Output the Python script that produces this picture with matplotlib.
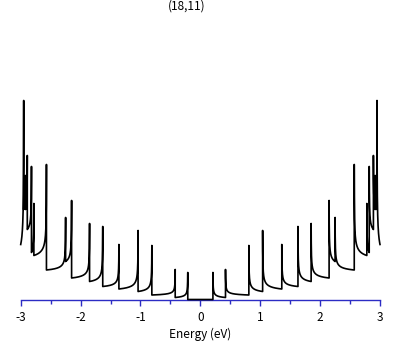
import numpy as np
import matplotlib.pyplot as plt

plt.rcParams['font.family'] = ['Noto Sans CJK JP', 'DejaVu Sans']
plt.rcParams['axes.unicode_minus'] = False

# van Hove singularities on the positive side (mirrored for E < 0)
vhs_energy = [0.21, 0.42, 0.81, 1.04, 1.36, 1.63, 1.85, 2.15, 2.25, 2.57, 2.78, 2.82, 2.89, 2.92, 2.95]
peak_height = [27, 30, 54, 69, 55, 73, 76, 99, 82, 135, 96, 133, 144, 124, 199]
floor_height = [2, 4.5, 8, 10.5, 13, 18, 21.5, 38, 29.5, 44, 47, 70, 90, 90, 55]
e_max = 3.0
title = '(18,11)'
xlabel = 'Energy (eV)'
ticks = [-3, -2, -1, 0, 1, 2, 3]

blue = '#2c2cc4'
d0 = 0.0015  # width of the spike tip

xs = [0.0]
ys = [0.0]
for i, e0 in enumerate(vhs_energy):
    e1 = vhs_energy[i + 1] if i + 1 < len(vhs_energy) else e_max
    L = e1 - e0
    off = np.concatenate([[0.0], np.geomspace(1e-4, L, 300)])
    c = np.sqrt(d0 / (L + d0))
    s = (np.sqrt(d0 / (off + d0)) - c) / (1 - c)
    seg = floor_height[i] + (peak_height[i] - floor_height[i]) * s
    xs.append(e0)
    ys.append(ys[-1])
    xs.extend(e0 + off)
    ys.extend(seg)

xs = np.array(xs)
ys = np.array(ys)
energy = np.concatenate([-xs[::-1], xs[1:]])
dos = np.concatenate([ys[::-1], ys[1:]])

fig = plt.figure(figsize=(4.09, 3.45), dpi=100)
ax = fig.add_axes([20.7 / 409, 45.5 / 345, 359.3 / 409, 279.5 / 345])
ax.plot(energy, dos, color='black', lw=1.2, zorder=5, clip_on=False)

ax.set_xlim(-3, 3)
ax.set_ylim(0, 279.5)
for side in ['top', 'left', 'right']:
    ax.spines[side].set_visible(False)
ax.spines['bottom'].set_color(blue)
ax.spines['bottom'].set_linewidth(1.0)
ax.set_yticks([])
ax.set_xticks(ticks)
ax.set_xticklabels([str(t) for t in ticks])
ax.set_xticks(np.arange(-2.5, 3, 1.0), minor=True)
ax.tick_params(axis='x', which='major', direction='out', length=4.5, width=1.0,
               color=blue, labelsize=8.5, pad=3.5)
ax.tick_params(axis='x', which='minor', direction='out', length=3.2, width=1.0, color=blue)
ax.set_xlabel(xlabel, fontsize=8.5, labelpad=3)

fig.text(187 / 409, 1 - 6 / 345, title, fontsize=8.5, ha='center', va='center')

fig.savefig('out.png', dpi=100)
